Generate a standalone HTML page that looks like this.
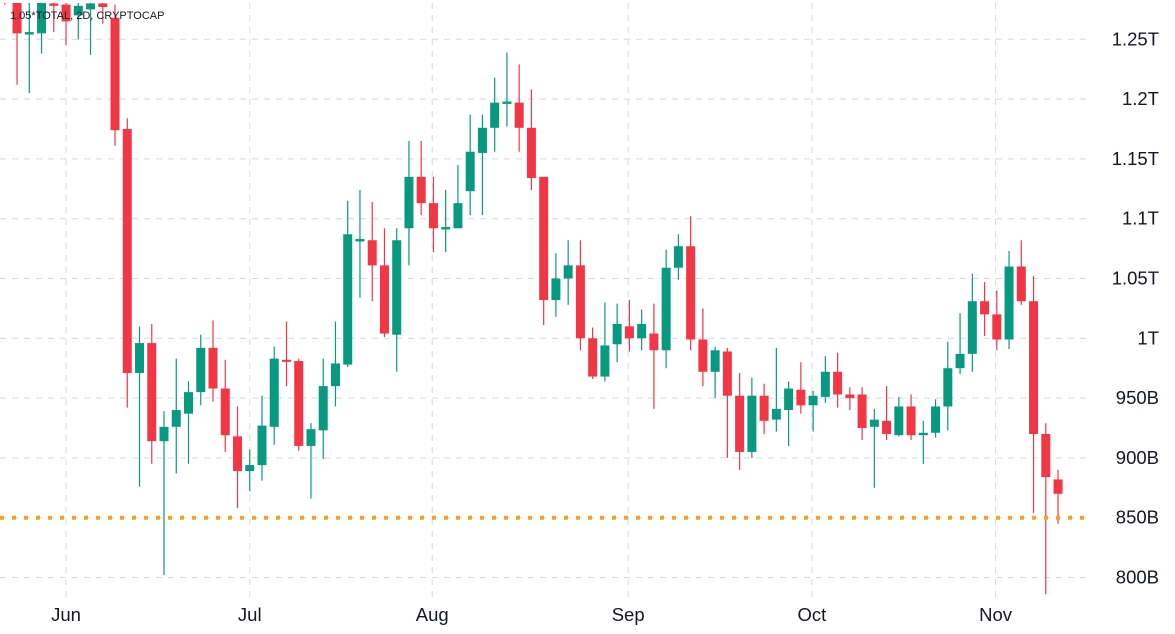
<!DOCTYPE html>
<html><head><meta charset="utf-8"><style>
body{margin:0;background:#fff;}
svg{display:block;font-family:"Liberation Sans",sans-serif;}
</style></head><body>
<svg id="chart" width="1175" height="634" xmlns="http://www.w3.org/2000/svg">
<defs><clipPath id="plotClip"><rect x="0" y="3" width="1090" height="597"/></clipPath></defs>
<rect width="1175" height="634" fill="#fff"/>
<g id="grid"></g>
<g id="candles" clip-path="url(#plotClip)"></g>
<g id="axes"></g>
<text x="10" y="19" font-size="11" fill="#131722">1.05*TOTAL, 2D, CRYPTOCAP</text>
</svg>
<script>
const opens  = [1300,1300,1254,1255,1280,1279,1270,1275,1280,1268,1175,971,996,914,926,937,955,992,958,918,889,894,926,982,981,910,923,960,978,1081,1082,1061,1003,1092,1135,1113,1091,1092,1123,1155,1176,1196,1197,1176,1135,1032,1050,1061,1000,968,995,1010,1000,1004,990,1059,1077,999,972,989,952,905,952,932,940,957,944,951,972,953,953,926,931,919,943,919,921,943,975,987,1031,1020,999,1060,1031,920,882];
const highs  = [1300,1300,1290,1300,1300,1300,1290,1290,1290,1279,1184,1010,1012,939,983,964,1003,1015,982,943,907,952,993,1014,983,929,983,1014,1115,1124,1114,1092,1092,1165,1165,1135,1124,1145,1187,1187,1218,1239,1229,1208,1135,1071,1082,1082,1009,1030,1029,1032,1024,1029,1074,1087,1102,1025,993,992,971,967,962,992,964,980,956,985,988,959,959,941,960,951,953,931,949,997,1021,1054,1047,1040,1073,1082,1052,929,890];
const lows   = [1279,1212,1205,1238,1256,1245,1250,1237,1263,1161,942,876,895,802,887,895,944,947,905,858,872,881,911,960,906,866,899,943,976,1034,1031,1001,972,1061,1103,1072,1072,1092,1103,1103,1156,1177,1156,1124,1011,1018,1028,990,966,964,980,989,990,941,975,1049,990,960,950,900,890,900,920,922,910,937,922,946,942,940,915,875,915,918,915,895,917,923,970,972,1002,990,991,1028,854,786,845];
const closes = [1295,1255,1256,1300,1278,1265,1278,1280,1277,1174,971,996,914,926,940,955,992,958,919,889,894,927,983,981,910,924,960,979,1087,1083,1061,1004,1082,1135,1113,1092,1093,1113,1156,1176,1197,1198,1176,1134,1032,1050,1061,1000,968,994,1012,1000,1012,990,1059,1077,999,972,990,952,905,952,931,941,958,944,952,972,953,950,925,932,920,943,919,921,943,975,987,1031,1020,999,1060,1031,920,884,870];
const priceTicks = [800,850,900,950,1000,1050,1100,1150,1200,1250];
const priceLabels = ["800B","850B","900B","950B","1T","1.05T","1.1T","1.15T","1.2T","1.25T"];
const monthIdx = [5,20,34.9,50.9,65.9,80.9];
const monthLabels = ["Jun","Jul","Aug","Sep","Oct","Nov"];
const refLevel = 850;

const NS="http://www.w3.org/2000/svg";
function y(v){return 338.3-(v-1000)*1.196;}
function x(i){return 4.8+i*12.247;}
function mk(tag,attrs,parent){const e=document.createElementNS(NS,tag);for(const k in attrs)e.setAttribute(k,attrs[k]);parent.appendChild(e);return e;}
const grid=document.getElementById('grid'),cg=document.getElementById('candles'),ax=document.getElementById('axes');

priceTicks.forEach((p,k)=>{
  const l=mk('line',{x1:0,x2:1090,y1:y(p),y2:y(p),stroke:'#d7d9df','stroke-dasharray':'6,6','stroke-width':1},grid);
  
  
  const t=mk('text',{x:1159,y:y(p)+6,'text-anchor':'end','font-size':18.5,fill:'#131722'},ax);
  t.textContent=priceLabels[k];
  
  
});
monthIdx.forEach((m,k)=>{
  const l=mk('line',{x1:x(m),x2:x(m),y1:3,y2:600,stroke:'#d7d9df','stroke-dasharray':'6,6','stroke-width':1},grid);
  
  
  const t=mk('text',{x:x(m),y:621,'text-anchor':'middle','font-size':18.5,fill:'#131722'},ax);
  t.textContent=monthLabels[k];
  
  
});
const ref=mk('line',{x1:0,x2:1090,y1:y(refLevel),y2:y(refLevel),stroke:'#f0a51c','stroke-width':4,'stroke-dasharray':'4,8'},ax);



opens.forEach((o,i)=>{
  const c=closes[i],up=c>=o,col=up?'#089981':'#f23645',cx=x(i);
  const g=mk('g',{},cg);
  
  
  mk('line',{x1:cx,x2:cx,y1:y(highs[i]),y2:y(lows[i]),stroke:col,'stroke-width':1.2},g);
  const top=y(Math.max(o,c)),h=Math.max(2,y(Math.min(o,c))-top);
  mk('rect',{x:cx-4.5,y:top,width:9,height:h,fill:col},g);
});
</script>
</body></html>
